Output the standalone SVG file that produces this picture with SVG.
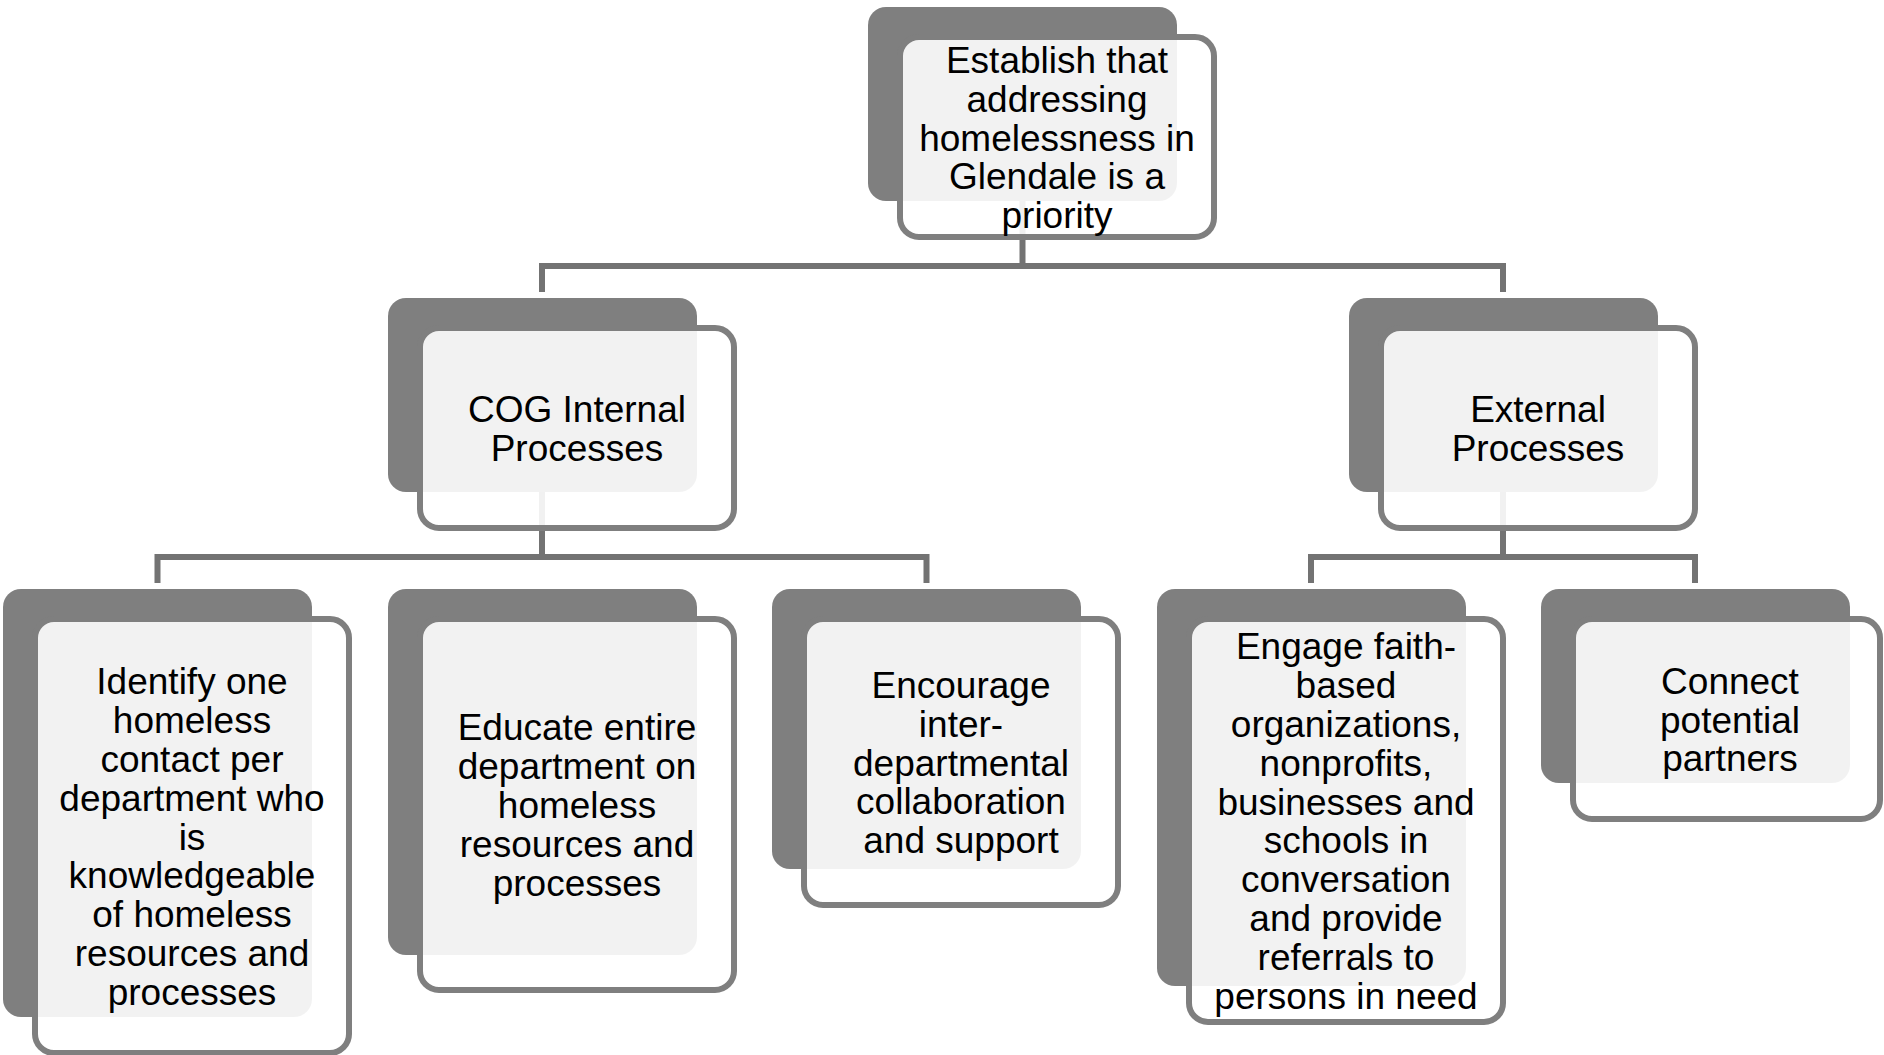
<svg xmlns="http://www.w3.org/2000/svg" width="1884" height="1055" viewBox="0 0 1884 1055">
  <style>
    .back { fill: #7f7f7f; }
    .front { fill: #ffffff; fill-opacity: 0.9; stroke: #7f7f7f; stroke-width: 6; }
    .conn { fill: none; stroke: #737373; stroke-width: 6; }
    .lbl { font-family: "Liberation Sans", Arial, sans-serif; font-size: 37px; fill: #000000; text-anchor: middle; }
  </style>
  <rect width="1884" height="1055" fill="#ffffff"/>
  <g id="connectors">
    <path class="conn" d="M1022.5,201 V266"/>
    <path class="conn" d="M542,292 V266 H1503 V292"/>
    <path class="conn" d="M542,492 V557"/>
    <path class="conn" d="M157.5,583 V557 H926.5 V583"/>
    <path class="conn" d="M1503,492 V557"/>
    <path class="conn" d="M1311,583 V557 H1695 V583"/>
  </g>
  <g id="node-top">
    <rect class="back" x="868" y="7" width="309" height="194" rx="18"/>
    <rect class="front" x="900" y="37" width="314" height="200" rx="19"/>
    <text class="lbl" y="72.9"><tspan x="1057">Establish that</tspan><tspan x="1057" dy="38.8">addressing</tspan><tspan x="1057" dy="38.8">homelessness in</tspan><tspan x="1057" dy="38.8">Glendale is a</tspan><tspan x="1057" dy="38.8">priority</tspan></text>
  </g>
  <g id="node-cog">
    <rect class="back" x="388" y="298" width="309" height="194" rx="18"/>
    <rect class="front" x="420" y="328" width="314" height="200" rx="19"/>
    <text class="lbl" y="422.1"><tspan x="577">COG Internal</tspan><tspan x="577" dy="38.8">Processes</tspan></text>
  </g>
  <g id="node-external">
    <rect class="back" x="1349" y="298" width="309" height="194" rx="18"/>
    <rect class="front" x="1381" y="328" width="314" height="200" rx="19"/>
    <text class="lbl" y="422.1"><tspan x="1538">External</tspan><tspan x="1538" dy="38.8">Processes</tspan></text>
  </g>
  <g id="node-identify">
    <rect class="back" x="3" y="589" width="309" height="428" rx="18"/>
    <rect class="front" x="35" y="619" width="314" height="434" rx="19"/>
    <text class="lbl" y="694.3"><tspan x="192">Identify one</tspan><tspan x="192" dy="38.8">homeless</tspan><tspan x="192" dy="38.8">contact per</tspan><tspan x="192" dy="38.8">department who</tspan><tspan x="192" dy="38.8">is</tspan><tspan x="192" dy="38.8">knowledgeable</tspan><tspan x="192" dy="38.8">of homeless</tspan><tspan x="192" dy="38.8">resources and</tspan><tspan x="192" dy="38.8">processes</tspan></text>
  </g>
  <g id="node-educate">
    <rect class="back" x="388" y="589" width="309" height="366" rx="18"/>
    <rect class="front" x="420" y="619" width="314" height="371" rx="19"/>
    <text class="lbl" y="740.4"><tspan x="577">Educate entire</tspan><tspan x="577" dy="38.8">department on</tspan><tspan x="577" dy="38.8">homeless</tspan><tspan x="577" dy="38.8">resources and</tspan><tspan x="577" dy="38.8">processes</tspan></text>
  </g>
  <g id="node-encourage">
    <rect class="back" x="772" y="589" width="309" height="280" rx="18"/>
    <rect class="front" x="804" y="619" width="314" height="286" rx="19"/>
    <text class="lbl" y="697.9"><tspan x="961">Encourage</tspan><tspan x="961" dy="38.8">inter-</tspan><tspan x="961" dy="38.8">departmental</tspan><tspan x="961" dy="38.8">collaboration</tspan><tspan x="961" dy="38.8">and support</tspan></text>
  </g>
  <g id="node-engage">
    <rect class="back" x="1157" y="589" width="309" height="397" rx="18"/>
    <rect class="front" x="1189" y="619" width="314" height="403" rx="19"/>
    <text class="lbl" y="659.4"><tspan x="1346">Engage faith-</tspan><tspan x="1346" dy="38.8">based</tspan><tspan x="1346" dy="38.8">organizations,</tspan><tspan x="1346" dy="38.8">nonprofits,</tspan><tspan x="1346" dy="38.8">businesses and</tspan><tspan x="1346" dy="38.8">schools in</tspan><tspan x="1346" dy="38.8">conversation</tspan><tspan x="1346" dy="38.8">and provide</tspan><tspan x="1346" dy="38.8">referrals to</tspan><tspan x="1346" dy="38.8">persons in need</tspan></text>
  </g>
  <g id="node-connect">
    <rect class="back" x="1541" y="589" width="309" height="194" rx="18"/>
    <rect class="front" x="1573" y="619" width="307" height="200" rx="19"/>
    <text class="lbl" y="693.7"><tspan x="1730">Connect</tspan><tspan x="1730" dy="38.8">potential</tspan><tspan x="1730" dy="38.8">partners</tspan></text>
  </g>
</svg>
